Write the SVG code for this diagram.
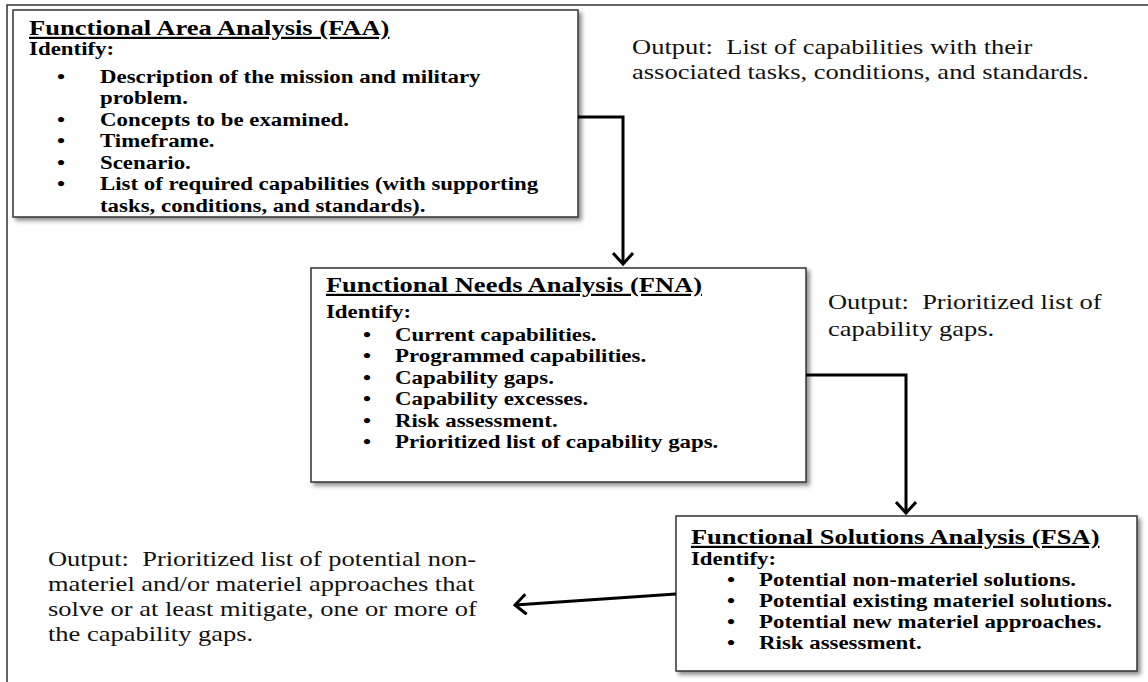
<svg xmlns="http://www.w3.org/2000/svg" width="1148" height="682" viewBox="0 0 1148 682">
<style>
.box{fill:#fff;stroke:#333;stroke-width:1.5}
.ttl{font-family:"Liberation Serif",serif;font-weight:bold;font-size:22px;text-decoration:underline;fill:#000}
.b{font-family:"Liberation Serif",serif;font-weight:bold;font-size:19px;fill:#000}
.o{font-family:"Liberation Serif",serif;font-size:22px;fill:#111}
.c{fill:none;stroke:#000;stroke-width:3}
.frame{fill:none;stroke:#333;stroke-width:1.5}
</style>
<defs>
<filter id="sh" x="-5%" y="-5%" width="115%" height="120%">
<feDropShadow dx="3" dy="3" stdDeviation="2" flood-color="#000" flood-opacity="0.45"/>
</filter>
<marker id="ah" markerWidth="16" markerHeight="22" refX="12" refY="11" orient="auto" markerUnits="userSpaceOnUse">
<path d="M1,1 L12,11 L1,21" fill="none" stroke="#000" stroke-width="3"/>
</marker>
</defs>
<rect width="1148" height="682" fill="#fff"/>
<path class="frame" d="M7,682 V5 H1148"/>

<g id="faa">
<rect class="box" x="13" y="10" width="565" height="207" filter="url(#sh)"/>
<g transform="scale(1.205 1)">
<text class="ttl" x="24.1" y="35">Functional Area Analysis (FAA)</text>
<text class="b" x="24.1" y="55">Identify:</text>
<text class="b" x="47.3" y="83">•</text><text class="b" x="83" y="83">Description of the mission and military</text>
<text class="b" x="83" y="104.5">problem.</text>
<text class="b" x="47.3" y="126">•</text><text class="b" x="83" y="126">Concepts to be examined.</text>
<text class="b" x="47.3" y="147.5">•</text><text class="b" x="83" y="147.5">Timeframe.</text>
<text class="b" x="47.3" y="169">•</text><text class="b" x="83" y="169">Scenario.</text>
<text class="b" x="47.3" y="190.5">•</text><text class="b" x="83" y="190.5">List of required capabilities (with supporting</text>
<text class="b" x="83" y="212">tasks, conditions, and standards).</text>
</g>
</g>

<g id="out1" transform="scale(1.205 1)">
<text class="o" x="524.5" y="54">Output:&#160; List of capabilities with their</text>
<text class="o" x="524.5" y="79">associated tasks, conditions, and standards.</text>
</g>

<g id="fna">
<rect class="box" x="311" y="268" width="495" height="214" filter="url(#sh)"/>
<g transform="scale(1.205 1)">
<text class="ttl" x="270.5" y="292">Functional Needs Analysis (FNA)</text>
<text class="b" x="270.5" y="318">Identify:</text>
<text class="b" x="301.2" y="341">•</text><text class="b" x="327.8" y="341">Current capabilities.</text>
<text class="b" x="301.2" y="362.5">•</text><text class="b" x="327.8" y="362.5">Programmed capabilities.</text>
<text class="b" x="301.2" y="384">•</text><text class="b" x="327.8" y="384">Capability gaps.</text>
<text class="b" x="301.2" y="405.5">•</text><text class="b" x="327.8" y="405.5">Capability excesses.</text>
<text class="b" x="301.2" y="427">•</text><text class="b" x="327.8" y="427">Risk assessment.</text>
<text class="b" x="301.2" y="448.5">•</text><text class="b" x="327.8" y="448.5">Prioritized list of capability gaps.</text>
</g>
</g>

<g id="out2" transform="scale(1.205 1)">
<text class="o" x="687.1" y="309">Output:&#160; Prioritized list of</text>
<text class="o" x="687.1" y="336">capability gaps.</text>
</g>

<g id="fsa">
<rect class="box" x="676" y="516" width="461" height="155" filter="url(#sh)"/>
<g transform="scale(1.205 1)">
<text class="ttl" x="573.4" y="544">Functional Solutions Analysis (FSA)</text>
<text class="b" x="573.4" y="565">Identify:</text>
<text class="b" x="603.3" y="586">•</text><text class="b" x="629.9" y="586">Potential non-materiel solutions.</text>
<text class="b" x="603.3" y="607">•</text><text class="b" x="629.9" y="607">Potential existing materiel solutions.</text>
<text class="b" x="603.3" y="628">•</text><text class="b" x="629.9" y="628">Potential new materiel approaches.</text>
<text class="b" x="603.3" y="649">•</text><text class="b" x="629.9" y="649">Risk assessment.</text>
</g>
</g>

<g id="out3" transform="scale(1.205 1)">
<text class="o" x="39.8" y="566">Output:&#160; Prioritized list of potential non-</text>
<text class="o" x="39.8" y="591">materiel and/or materiel approaches that</text>
<text class="o" x="39.8" y="616">solve or at least mitigate, one or more of</text>
<text class="o" x="39.8" y="641">the capability gaps.</text>
</g>

<g id="connectors">
<path class="c" d="M578,117 H623 V264" marker-end="url(#ah)"/>
<path class="c" d="M806,375 H906 V513" marker-end="url(#ah)"/>
<path class="c" d="M676,594 L515,605" marker-end="url(#ah)"/>
</g>
</svg>
